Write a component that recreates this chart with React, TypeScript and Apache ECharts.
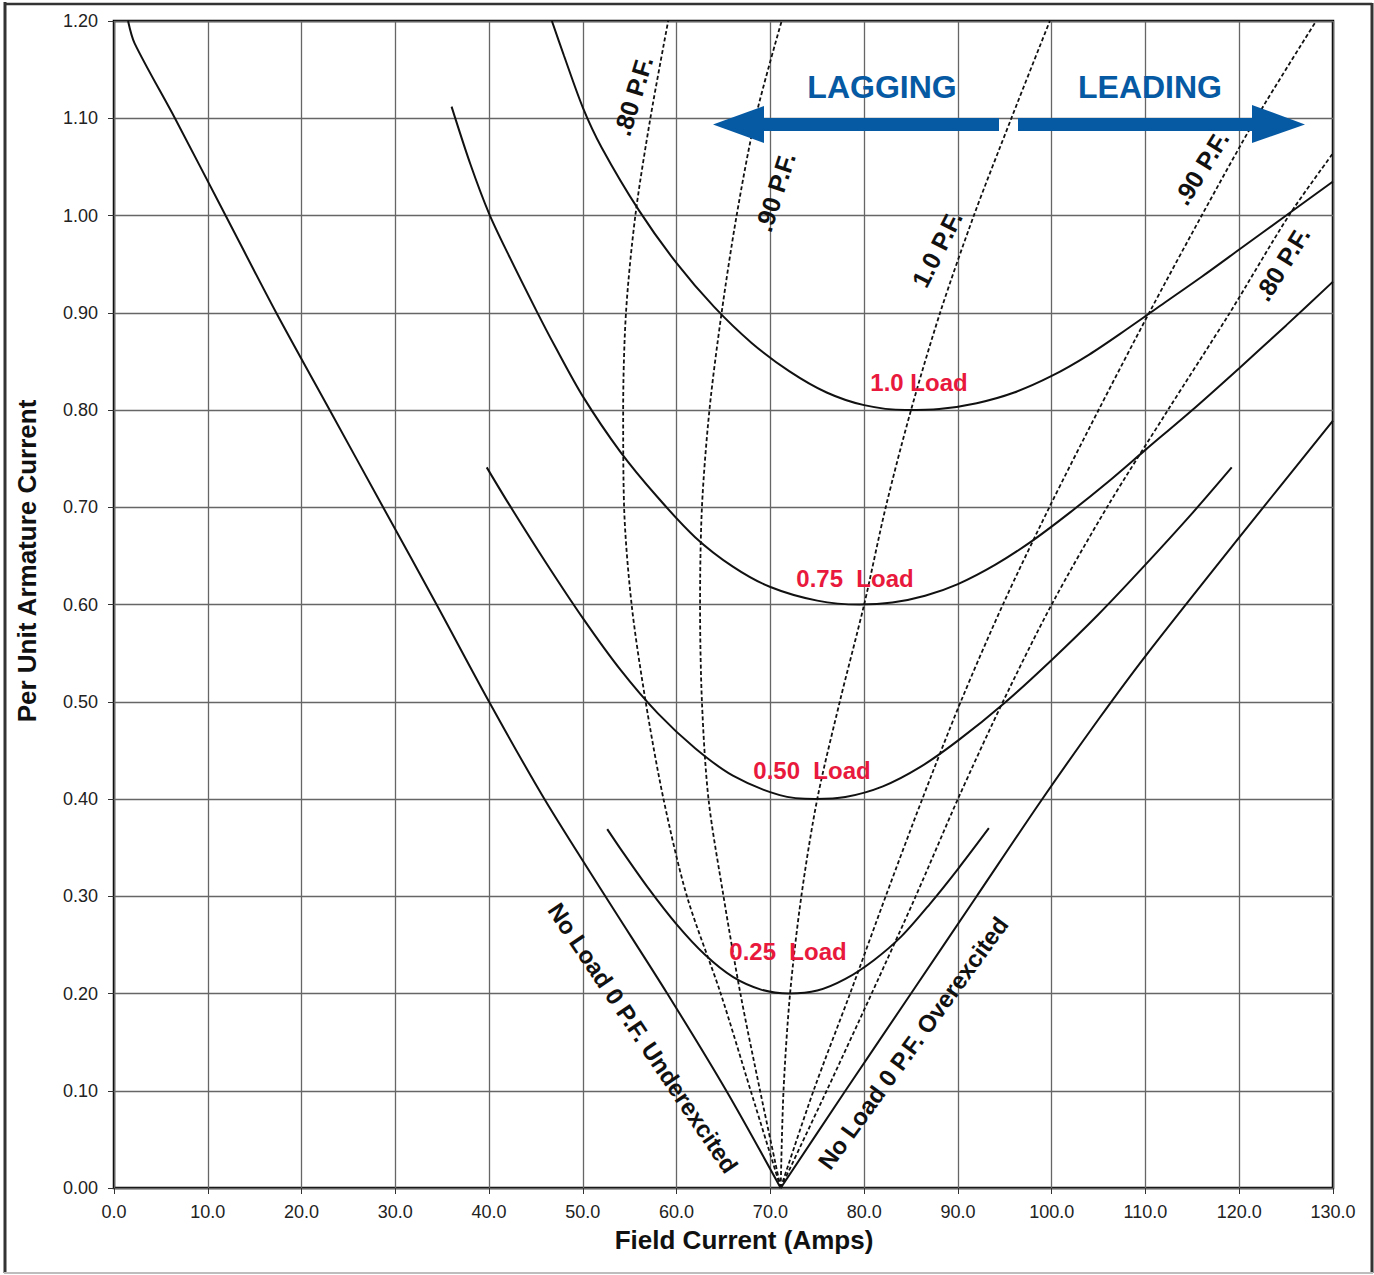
import React, { useEffect, useRef } from "react";
import * as echarts from "echarts";

// Axis ticks
const xTickValues = [0, 10, 20, 30, 40, 50, 60, 70, 80, 90, 100, 110, 120, 130];
const yTickValues = [0, 0.1, 0.2, 0.3, 0.4, 0.5, 0.6, 0.7, 0.8, 0.9, 1.0, 1.1, 1.2];

// V-curves: [field current (A), per-unit armature current]
const noLoadUnderexcited: [number, number][] = [
  [1.5, 1.2], [2.2, 1.177], [6.5, 1.1], [11.9, 1.0], [17.3, 0.9], [23.0, 0.8],
  [28.7, 0.7], [34.4, 0.6], [40.0, 0.5], [45.9, 0.4], [52.4, 0.3], [59.0, 0.2],
  [65.3, 0.1], [71.1, 0.0],
];
const noLoadOverexcited: [number, number][] = [
  [71.1, 0.0], [78.0, 0.1], [85.0, 0.2], [92.0, 0.3], [99.0, 0.4],
  [105.0, 0.482], [110.0, 0.547], [120.0, 0.669], [130.0, 0.789],
];
const load025: [number, number][] = [
  [52.6, 0.369], [54.0, 0.349], [57.0, 0.308], [60.0, 0.271], [63.0, 0.24],
  [66.0, 0.217], [69.0, 0.204], [72.0, 0.2], [75.0, 0.203], [78.0, 0.215],
  [81.0, 0.234], [84.0, 0.259], [87.0, 0.292], [90.0, 0.328], [93.3, 0.37],
];
const load050: [number, number][] = [
  [39.75, 0.741], [42.0, 0.705], [46.0, 0.644], [50.0, 0.586], [54.0, 0.533],
  [58.0, 0.488], [62.0, 0.452], [66.0, 0.424], [71.0, 0.404], [74.8, 0.4],
  [78.0, 0.402], [82.0, 0.413], [86.0, 0.433], [90.0, 0.46], [95.0, 0.499],
  [100.0, 0.543], [105.0, 0.59], [110.0, 0.641], [115.0, 0.694], [119.2, 0.741],
];
const load075: [number, number][] = [
  [36.0, 1.112], [38.0, 1.053], [40.0, 1.002], [42.0, 0.961], [45.0, 0.903],
  [47.0, 0.866], [50.0, 0.814], [54.0, 0.757], [58.0, 0.71], [62.0, 0.669],
  [66.0, 0.639], [70.0, 0.618], [75.0, 0.604], [79.5, 0.6], [83.0, 0.602],
  [86.5, 0.609], [90.0, 0.621], [94.0, 0.641], [98.0, 0.666], [102.0, 0.695],
  [106.0, 0.726], [110.0, 0.759], [115.0, 0.8], [120.0, 0.843], [125.0, 0.887],
  [130.0, 0.932],
];
const load100: [number, number][] = [
  [46.7, 1.2], [48.0, 1.164], [50.0, 1.111], [52.0, 1.07], [56.0, 1.005],
  [60.0, 0.951], [64.0, 0.906], [68.0, 0.869], [72.0, 0.84], [76.0, 0.818],
  [80.0, 0.805], [84.4, 0.8], [88.0, 0.801], [92.0, 0.807], [96.0, 0.818],
  [100.0, 0.835], [104.0, 0.857], [108.0, 0.883], [112.0, 0.91], [116.0, 0.937],
  [120.0, 0.965], [125.0, 1.0], [130.0, 1.035],
];

// Constant power-factor loci
const pf080Lagging: [number, number][] = [
  [71.1, 0.0], [67.9, 0.1], [64.7, 0.2], [61.1, 0.3], [58.6, 0.4], [56.7, 0.5],
  [55.2, 0.6], [54.4, 0.7], [54.3, 0.8], [54.6, 0.9], [55.6, 1.0], [57.2, 1.1],
  [59.1, 1.2],
];
const pf090Lagging: [number, number][] = [
  [71.1, 0.0], [68.9, 0.1], [66.8, 0.2], [65.0, 0.3], [63.4, 0.4], [62.7, 0.5],
  [62.5, 0.6], [62.7, 0.7], [63.5, 0.8], [64.8, 0.9], [66.4, 1.0], [68.4, 1.1],
  [71.2, 1.2],
];
const pf100: [number, number][] = [
  [71.1, 0.0], [71.4, 0.1], [72.1, 0.2], [73.3, 0.3], [75.0, 0.4], [77.4, 0.5],
  [80.0, 0.6], [82.3, 0.7], [85.0, 0.8], [88.1, 0.9], [91.7, 1.0], [95.7, 1.1],
  [99.8, 1.2],
];
const pf090Leading: [number, number][] = [
  [71.1, 0.0], [74.6, 0.1], [78.5, 0.2], [82.3, 0.3], [86.2, 0.4], [90.3, 0.5],
  [94.8, 0.6], [99.75, 0.7], [105.0, 0.8], [110.4, 0.9], [116.0, 1.0],
  [121.8, 1.1], [128.2, 1.2],
];
const pf080Leading: [number, number][] = [
  [71.1, 0.0], [76.0, 0.1], [80.8, 0.2], [85.5, 0.3], [90.0, 0.4], [94.8, 0.5],
  [100.0, 0.6], [105.9, 0.7], [112.4, 0.8], [119.0, 0.9], [125.3, 1.0],
  [130.0, 1.064],
];

const FONT = '"Liberation Sans", Arial, Helvetica, sans-serif';
const BLUE = "#0659a3";
const RED = "#e8193c";
const INK = "#111";

const solid = (name: string, data: [number, number][]) => ({
  name,
  type: "line",
  data,
  smooth: 0.3,
  symbol: "none",
  lineStyle: { color: INK, width: 2 },
  z: 3,
});

const dashed = (name: string, data: [number, number][]) => ({
  name,
  type: "line",
  data,
  smooth: 0.3,
  symbol: "none",
  lineStyle: { color: INK, width: 1.8, type: [4, 2.5] },
  z: 2,
});

const label = (
  text: string,
  x: number,
  y: number,
  opts: { rot?: number; size?: number; color?: string } = {}
) => ({
  type: "text",
  x,
  y,
  rotation: ((opts.rot ?? 0) * Math.PI) / 180,
  z: 50,
  style: {
    text,
    fill: opts.color ?? INK,
    fontSize: opts.size ?? 24,
    fontWeight: "bold",
    fontFamily: FONT,
    align: "center",
    verticalAlign: "middle",
  },
});

export default function App() {
  const ref = useRef<HTMLDivElement>(null);

  useEffect(() => {
    if (!ref.current) return;
    const chart = echarts.init(ref.current, undefined, { renderer: "svg" });

    chart.setOption({
      animation: false,
      backgroundColor: "#ffffff",
      grid: {
        left: 114,
        right: 41,
        top: 21,
        bottom: 87,
        show: true,
        borderColor: "#000",
        borderWidth: 2.5,
        backgroundColor: "transparent",
      },
      xAxis: {
        type: "value",
        min: xTickValues[0],
        max: xTickValues[xTickValues.length - 1],
        interval: 10,
        axisLine: { show: false },
        axisTick: { show: true, inside: false, length: 6, lineStyle: { color: "#333" } },
        axisLabel: {
          margin: 15,
          fontSize: 18,
          fontFamily: FONT,
          color: "#222",
          formatter: (v: number) => v.toFixed(1),
        },
        splitLine: { show: true, lineStyle: { color: "#666", width: 1.3 } },
      },
      yAxis: {
        type: "value",
        min: yTickValues[0],
        max: yTickValues[yTickValues.length - 1],
        interval: 0.1,
        axisLine: { show: false },
        axisTick: { show: true, inside: false, length: 6, lineStyle: { color: "#333" } },
        axisLabel: {
          margin: 16,
          fontSize: 18,
          fontFamily: FONT,
          color: "#222",
          formatter: (v: number) => v.toFixed(2),
        },
        splitLine: { show: true, lineStyle: { color: "#666", width: 1.3 } },
      },
      series: [
        solid("No Load 0 P.F. Underexcited", noLoadUnderexcited),
        solid("No Load 0 P.F. Overexcited", noLoadOverexcited),
        solid("0.25 Load", load025),
        solid("0.50 Load", load050),
        solid("0.75 Load", load075),
        solid("1.0 Load", load100),
        dashed(".80 P.F. lagging", pf080Lagging),
        dashed(".90 P.F. lagging", pf090Lagging),
        dashed("1.0 P.F.", pf100),
        dashed(".90 P.F. leading", pf090Leading),
        dashed(".80 P.F. leading", pf080Leading),
      ],
      graphic: [
        // outer frame
        { type: "line", shape: { x1: 5, y1: 2, x2: 5, y2: 1273 }, style: { stroke: "#333", lineWidth: 3 } },
        { type: "line", shape: { x1: 4, y1: 4, x2: 1372, y2: 4 }, style: { stroke: "#333", lineWidth: 2.5 } },
        { type: "line", shape: { x1: 1372, y1: 3, x2: 1372, y2: 1273 }, style: { stroke: "#333", lineWidth: 3 } },
        { type: "line", shape: { x1: 4, y1: 1273, x2: 1373, y2: 1273 }, style: { stroke: "#bdbdbd", lineWidth: 2 } },

        // axis titles
        label("Per Unit Armature Current", 27, 561, { rot: 90, size: 26 }),
        label("Field Current (Amps)", 744, 1240, { size: 26 }),

        // load curve labels
        label("1.0 Load", 919, 382, { color: RED, size: 24 }),
        label("0.75  Load", 855, 578, { color: RED, size: 24 }),
        label("0.50  Load", 812, 770, { color: RED, size: 24 }),
        label("0.25  Load", 788, 951, { color: RED, size: 24 }),

        // power factor labels
        label(".80 P.F.", 633, 96, { rot: 73, size: 25 }),
        label(".90 P.F.", 775, 192, { rot: 72, size: 25 }),
        label("1.0 P.F.", 937, 249, { rot: 63, size: 25 }),
        label(".90 P.F.", 1201, 168, { rot: 58, size: 25 }),
        label(".80 P.F.", 1282, 264, { rot: 58, size: 25 }),

        // zero power factor lines
        label("No Load 0 P.F. Underexcited", 643, 1038, { rot: -56, size: 24 }),
        label("No Load 0 P.F. Overexcited", 913, 1043, { rot: 54, size: 24 }),

        // lagging / leading arrows
        label("LAGGING", 882, 87, { color: BLUE, size: 32 }),
        label("LEADING", 1150, 87, { color: BLUE, size: 32 }),
        { type: "rect", z: 60, shape: { x: 762, y: 118, width: 237, height: 13 }, style: { fill: BLUE } },
        { type: "polygon", z: 60, shape: { points: [[713, 124.5], [764, 106], [764, 143]] }, style: { fill: BLUE } },
        { type: "rect", z: 60, shape: { x: 1018, y: 118, width: 236, height: 13 }, style: { fill: BLUE } },
        { type: "polygon", z: 60, shape: { points: [[1305, 124.5], [1252, 105], [1252, 143]] }, style: { fill: BLUE } },
      ],
    });

    return () => chart.dispose();
  }, []);

  return (
    <div
      ref={ref}
      style={{ position: "absolute", left: 0, top: 0, width: 1374, height: 1275 }}
    />
  );
}
